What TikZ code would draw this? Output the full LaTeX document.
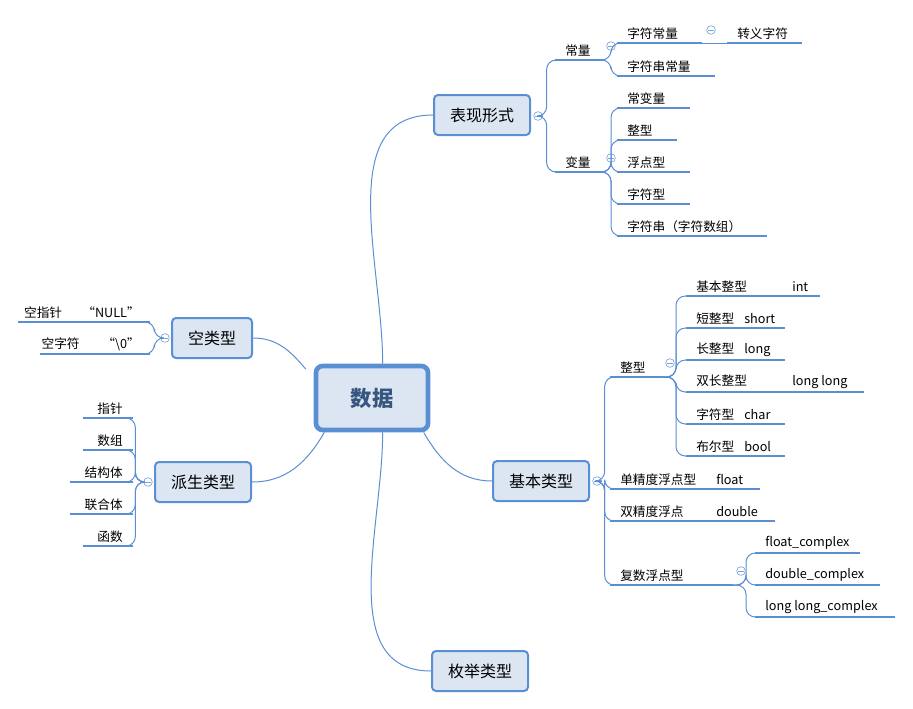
\documentclass[tikz,border=0pt]{standalone}
\usepackage{fontspec}
\setmainfont{Noto Sans CJK SC}
\begin{document}
\begin{tikzpicture}[x=0.75pt,y=-0.75pt,
  font=\fontsize{9.5pt}{11pt}\selectfont,
  leaf/.style={anchor=south west,inner xsep=7.5pt,inner ysep=2.5pt},
  rleaf/.style={anchor=south east,inner xsep=7.5pt,inner ysep=2.5pt},
  uline/.style={draw=bl,line width=2.2pt},
  conn/.style={draw=bl,line width=0.75pt,rounded corners=7pt},
  mconn/.style={draw=bl,line width=0.75pt},
  box/.style={draw=bl,fill=bf,line width=1.5pt,rounded corners=3pt,minimum width=72pt,minimum height=30pt,font=\fontsize{12pt}{14pt}\selectfont},
  col/.style={circle,draw=bl!80,fill=white,line width=0.5pt,inner sep=0pt,minimum size=6.5pt,
    path picture={\draw[bl!80,line width=0.5pt] ([xshift=1.3pt]path picture bounding box.west) -- ([xshift=-1.3pt]path picture bounding box.east);}}]
\definecolor{bl}{HTML}{5B8FD4}
\definecolor{bf}{HTML}{DCE6F2}
\newcommand\lf[5]{\node[leaf] (#1) at (#2,#4) {#5};\coordinate (#1-e) at (#3,#4);\draw[uline] (#1.south west) -- (#1-e);}
\newcommand\rlf[5]{\node[rleaf] (#1) at (#3,#4) {#5};\coordinate (#1-w) at (#2,#4);\draw[uline] (#1-w) -- (#1.south east);}
\useasboundingbox (0,0) rectangle (913,708);
% central
\node[draw=bl,fill=bf,line width=3.5pt,rounded corners=5pt,minimum width=84pt,minimum height=48pt,font=\fontsize{16pt}{18pt}\selectfont\bfseries,text=bl!60!black] (root) at (372,398) {数据};
\node[box] (bx) at (482,115) {表现形式};
\node[box,minimum width=60pt] (kl) at (212,338) {空类型};
\node[box] (ps) at (203,482) {派生类型};
\node[box] (jb) at (541,481) {基本类型};
\node[box] (mj) at (480,671) {枚举类型};
\draw[mconn] ([xshift=8pt]root.north) to[out=90,in=180] (bx.west);
\draw[mconn] ([xshift=-6pt,yshift=-4pt]root.north west) to[out=130,in=0] (kl.east);
\draw[mconn] ([xshift=8pt]root.south west) to[out=240,in=0] (ps.east);
\draw[mconn] ([xshift=-5pt]root.south east) to[out=-60,in=180] (jb.west);
\draw[mconn] ([xshift=8pt]root.south) to[out=-90,in=180] (mj.west);
% 表现形式
\node[col] (c0) at (538,116) {};
\lf{cl}{555}{605}{60}{常量}
\lf{bl1}{555}{605}{172}{变量}
\draw[conn] (c0.east) -- ++(4,0) |- (cl.south west);
\draw[conn] (c0.east) -- ++(4,0) |- (bl1.south west);
\node[col] (c1) at (611,46) {};
\lf{zfcl}{617}{702}{43}{字符常量}
\lf{zfccl}{617}{715}{76}{字符串常量}
\draw[conn] (cl-e) -- ++(6,0) |- (zfcl.south west);
\draw[conn] (cl-e) -- ++(6,0) |- (zfccl.south west);
\node[col] (c2) at (711,30) {};
\lf{zyzf}{727}{802}{43}{转义字符}
\draw[mconn] (zfcl-e) -- (zyzf.south west);
\node[col] (c3) at (611,158) {};
\lf{cbl}{617}{690}{108}{常变量}
\lf{zx1}{617}{677}{140}{整型}
\lf{fdx}{617}{690}{172}{浮点型}
\lf{zfx}{617}{690}{204}{字符型}
\lf{zfc}{617}{767}{236}{字符串（字符数组）}
\foreach \n in {cbl,zx1,fdx,zfx,zfc}{\draw[conn] (bl1-e) -- ++(6,0) |- (\n.south west);}
% 空类型
\node[col] (c4) at (165,338) {};
\rlf{kzz}{18}{150}{322}{空指针\hspace{1.6em}“NULL”}
\rlf{kzf}{40}{150}{354}{空字符\hspace{1.8em}“\textbackslash 0”}
\draw[conn] (c4.west) -- ++(-6,0) |- (kzz.south east);
\draw[conn] (c4.west) -- ++(-6,0) |- (kzf.south east);
% 派生类型
\node[col] (c5) at (148,482) {};
\rlf{zz}{83}{133}{418}{指针}
\rlf{sz}{83}{133}{450}{数组}
\rlf{jgt}{70}{133}{482}{结构体}
\rlf{lht}{70}{133}{514}{联合体}
\rlf{hs}{83}{133}{546}{函数}
\foreach \n in {zz,sz,jgt,lht,hs}{\draw[conn] (c5.west) -- ++(-8,0) |- (\n.south east);}
% 基本类型
\node[col] (c6) at (597,481) {};
\lf{zx2}{610}{662}{377}{整型}
\lf{dj}{610}{760}{489}{\makebox[72pt][l]{单精度浮点型}float}
\lf{sj}{610}{775}{521}{\makebox[72pt][l]{双精度浮点}double}
\lf{fs}{610}{733}{585}{复数浮点型}
\foreach \n in {zx2,dj,sj,fs}{\draw[conn] (c6.east) -- ++(3,0) |- (\n.south west);}
\node[col] (c7) at (670,363) {};
\lf{jbzx}{686}{820}{296}{\makebox[72pt][l]{基本整型}int}
\lf{dzx}{686}{785}{328}{\makebox[36pt][l]{短整型}short}
\lf{czx}{686}{785}{360}{\makebox[36pt][l]{长整型}long}
\lf{sczx}{686}{864}{392}{\makebox[72pt][l]{双长整型}long long}
\lf{zfx2}{686}{785}{424}{\makebox[36pt][l]{字符型}char}
\lf{bex}{686}{785}{456}{\makebox[36pt][l]{布尔型}bool}
\foreach \n in {jbzx,dzx,czx,sczx,zfx2,bex}{\draw[conn] (zx2-e) -- ++(14,0) |- (\n.south west);}
\node[col] (c8) at (741,571) {};
\lf{fc}{755}{860}{553}{float\_complex}
\lf{dc}{755}{880}{585}{double\_complex}
\lf{llc}{755}{895}{617}{long long\_complex}
\foreach \n in {fc,dc,llc}{\draw[conn] (fs-e) -- ++(13,0) |- (\n.south west);}
\end{tikzpicture}
\end{document}
